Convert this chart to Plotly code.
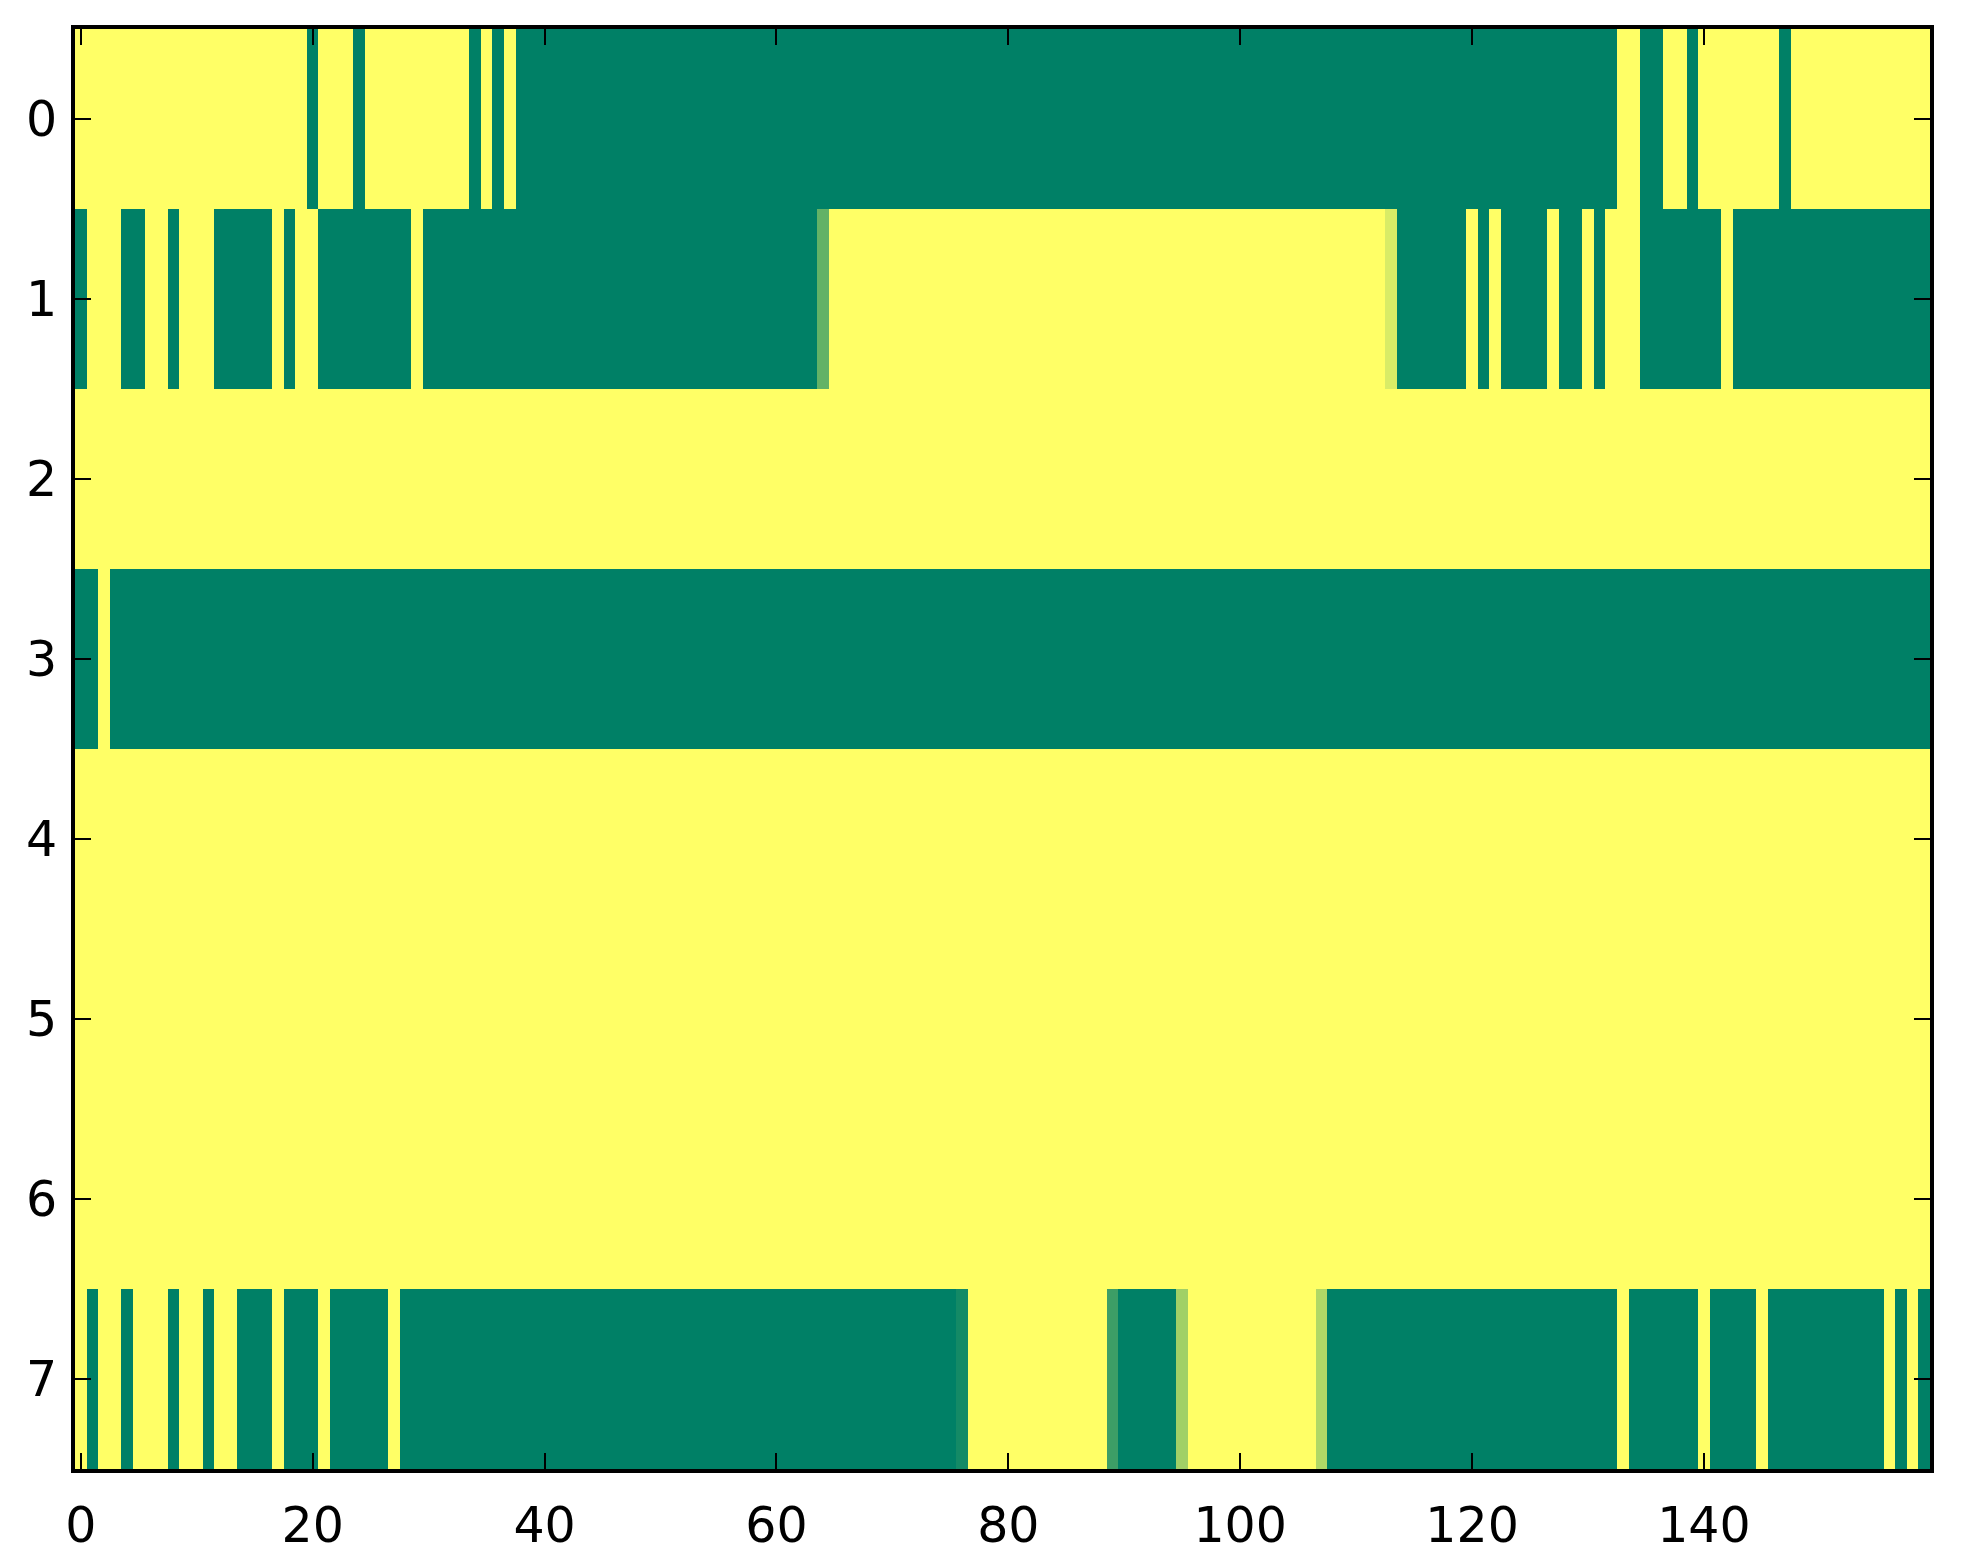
import plotly.graph_objects as go

# column indices and tick labels
cols = list(range(160))
rows = list(range(8))
x_ticks = [0, 20, 40, 60, 80, 100, 120, 140]
y_ticks = [0, 1, 2, 3, 4, 5, 6, 7]

row0 = [1,1,1,1,1,1,1,1,1,1,1,1,1,1,1,1,1,1,1,1,
        0,1,1,1,0,1,1,1,1,1,1,1,1,1,0,1,0,1,0,0,
        0,0,0,0,0,0,0,0,0,0,0,0,0,0,0,0,0,0,0,0,
        0,0,0,0,0,0,0,0,0,0,0,0,0,0,0,0,0,0,0,0,
        0,0,0,0,0,0,0,0,0,0,0,0,0,0,0,0,0,0,0,0,
        0,0,0,0,0,0,0,0,0,0,0,0,0,0,0,0,0,0,0,0,
        0,0,0,0,0,0,0,0,0,0,0,0,0,1,1,0,0,1,1,0,
        1,1,1,1,1,1,1,0,1,1,1,1,1,1,1,1,1,1,1,1]

row1 = [0,1,1,1,0,0,1,1,0,1,1,1,0,0,0,0,0,1,0,1,
        1,0,0,0,0,0,0,0,0,1,0,0,0,0,0,0,0,0,0,0,
        0,0,0,0,0,0,0,0,0,0,0,0,0,0,0,0,0,0,0,0,
        0,0,0,0,0.39,1,1,1,1,1,1,1,1,1,1,1,1,1,1,1,
        1,1,1,1,1,1,1,1,1,1,1,1,1,1,1,1,1,1,1,1,
        1,1,1,1,1,1,1,1,1,1,1,1,1,0.85,0,0,0,0,0,0,
        1,0,1,0,0,0,0,1,0,0,1,0,1,1,1,0,0,0,0,0,
        0,0,1,0,0,0,0,0,0,0,0,0,0,0,0,0,0,0,0,0]

row2 = [1,1,1,1,1,1,1,1,1,1,1,1,1,1,1,1,1,1,1,1,
        1,1,1,1,1,1,1,1,1,1,1,1,1,1,1,1,1,1,1,1,
        1,1,1,1,1,1,1,1,1,1,1,1,1,1,1,1,1,1,1,1,
        1,1,1,1,1,1,1,1,1,1,1,1,1,1,1,1,1,1,1,1,
        1,1,1,1,1,1,1,1,1,1,1,1,1,1,1,1,1,1,1,1,
        1,1,1,1,1,1,1,1,1,1,1,1,1,1,1,1,1,1,1,1,
        1,1,1,1,1,1,1,1,1,1,1,1,1,1,1,1,1,1,1,1,
        1,1,1,1,1,1,1,1,1,1,1,1,1,1,1,1,1,1,1,1]

row3 = [0,0,1,0,0,0,0,0,0,0,0,0,0,0,0,0,0,0,0,0,
        0,0,0,0,0,0,0,0,0,0,0,0,0,0,0,0,0,0,0,0,
        0,0,0,0,0,0,0,0,0,0,0,0,0,0,0,0,0,0,0,0,
        0,0,0,0,0,0,0,0,0,0,0,0,0,0,0,0,0,0,0,0,
        0,0,0,0,0,0,0,0,0,0,0,0,0,0,0,0,0,0,0,0,
        0,0,0,0,0,0,0,0,0,0,0,0,0,0,0,0,0,0,0,0,
        0,0,0,0,0,0,0,0,0,0,0,0,0,0,0,0,0,0,0,0,
        0,0,0,0,0,0,0,0,0,0,0,0,0,0,0,0,0,0,0,0]

row4 = [1,1,1,1,1,1,1,1,1,1,1,1,1,1,1,1,1,1,1,1,
        1,1,1,1,1,1,1,1,1,1,1,1,1,1,1,1,1,1,1,1,
        1,1,1,1,1,1,1,1,1,1,1,1,1,1,1,1,1,1,1,1,
        1,1,1,1,1,1,1,1,1,1,1,1,1,1,1,1,1,1,1,1,
        1,1,1,1,1,1,1,1,1,1,1,1,1,1,1,1,1,1,1,1,
        1,1,1,1,1,1,1,1,1,1,1,1,1,1,1,1,1,1,1,1,
        1,1,1,1,1,1,1,1,1,1,1,1,1,1,1,1,1,1,1,1,
        1,1,1,1,1,1,1,1,1,1,1,1,1,1,1,1,1,1,1,1]

row5 = [1,1,1,1,1,1,1,1,1,1,1,1,1,1,1,1,1,1,1,1,
        1,1,1,1,1,1,1,1,1,1,1,1,1,1,1,1,1,1,1,1,
        1,1,1,1,1,1,1,1,1,1,1,1,1,1,1,1,1,1,1,1,
        1,1,1,1,1,1,1,1,1,1,1,1,1,1,1,1,1,1,1,1,
        1,1,1,1,1,1,1,1,1,1,1,1,1,1,1,1,1,1,1,1,
        1,1,1,1,1,1,1,1,1,1,1,1,1,1,1,1,1,1,1,1,
        1,1,1,1,1,1,1,1,1,1,1,1,1,1,1,1,1,1,1,1,
        1,1,1,1,1,1,1,1,1,1,1,1,1,1,1,1,1,1,1,1]

row6 = [1,1,1,1,1,1,1,1,1,1,1,1,1,1,1,1,1,1,1,1,
        1,1,1,1,1,1,1,1,1,1,1,1,1,1,1,1,1,1,1,1,
        1,1,1,1,1,1,1,1,1,1,1,1,1,1,1,1,1,1,1,1,
        1,1,1,1,1,1,1,1,1,1,1,1,1,1,1,1,1,1,1,1,
        1,1,1,1,1,1,1,1,1,1,1,1,1,1,1,1,1,1,1,1,
        1,1,1,1,1,1,1,1,1,1,1,1,1,1,1,1,1,1,1,1,
        1,1,1,1,1,1,1,1,1,1,1,1,1,1,1,1,1,1,1,1,
        1,1,1,1,1,1,1,1,1,1,1,1,1,1,1,1,1,1,1,1]

row7 = [1,0,1,1,0,1,1,1,0,1,1,0,1,1,0,0,0,1,0,0,
        0,1,0,0,0,0,0,1,0,0,0,0,0,0,0,0,0,0,0,0,
        0,0,0,0,0,0,0,0,0,0,0,0,0,0,0,0,0,0,0,0,
        0,0,0,0,0,0,0,0,0,0,0,0,0,0,0,0,0.08,1,1,1,
        1,1,1,1,1,1,1,1,1,0.24,0,0,0,0,0,0.63,1,1,1,1,
        1,1,1,1,1,1,1,0.69,0,0,0,0,0,0,0,0,0,0,0,0,
        0,0,0,0,0,0,0,0,0,0,0,0,0,1,0,0,0,0,0,0,
        1,0,0,0,0,1,0,0,0,0,0,0,0,0,0,0,1,0,1,0]

z = [row0, row1, row2, row3, row4, row5, row6, row7]

fig = go.Figure(go.Heatmap(
    z=z, x=cols, y=rows,
    zmin=0, zmax=1,
    colorscale=[[0, "rgb(0,128,102)"], [1, "rgb(255,255,102)"]],
    showscale=False,
    hoverinfo="skip",
))

font = dict(family="DejaVu Sans", size=49, color="black")
axis_common = dict(
    showline=True, linewidth=4, linecolor="black", mirror="ticks",
    ticks="inside", ticklen=16, tickwidth=2, tickcolor="black",
    showgrid=False, zeroline=False, tickfont=font,
)
fig.update_xaxes(range=[-0.5, 159.5], tickvals=x_ticks, ticktext=[str(v) for v in x_ticks],
                 ticklabelstandoff=10, **axis_common)
fig.update_yaxes(range=[7.5, -0.5], tickvals=y_ticks, ticktext=[str(v) for v in y_ticks],
                 ticklabelstandoff=4, **axis_common)

fig.update_layout(
    width=1963, height=1564,
    margin=dict(l=67, r=41, t=21, b=103),
    paper_bgcolor="white", plot_bgcolor="white",
    font=font,
)

fig.write_html("out.html")
